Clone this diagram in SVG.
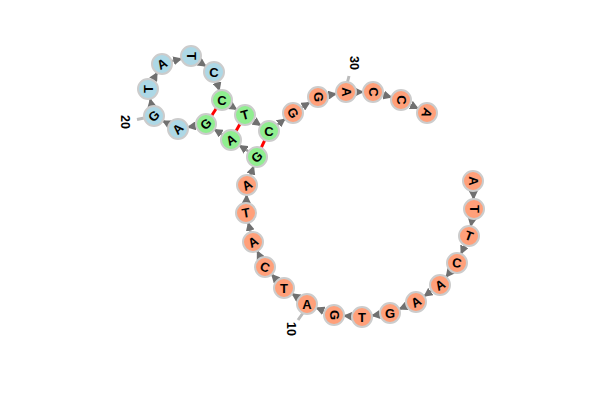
<svg xmlns="http://www.w3.org/2000/svg" width="600" height="406" viewBox="0 0 600 406">
<defs>
<marker id="arr" viewBox="0 0 10 10" refX="9" refY="5" markerWidth="9" markerHeight="9" markerUnits="userSpaceOnUse" orient="auto">
<path d="M0,0 L10,5 L0,10 z" fill="#707070"/>
</marker>
<style>
.bb{stroke:#999;stroke-width:2.5;fill:none;marker-end:url(#arr)}
.pr{stroke:#ff0000;stroke-width:3}
.lb{stroke:#bbb;stroke-width:3}
circle{stroke:#ccc;stroke-width:2}
.s{fill:#ffa07a}.b{fill:#add8e6}.g{fill:#90ee90}
text{font-family:"Liberation Sans",Arial,sans-serif;font-weight:bold;font-size:13px;fill:#000;text-anchor:middle;dominant-baseline:central}
#labels text{font-size:12.5px}
</style>
</defs>
<rect width="600" height="406" fill="#fff"/>
<g id="connectors">
<line class="bb" x1="473.4" y1="191" x2="473.6" y2="199"/>
<line class="bb" x1="472.2" y1="218.8" x2="470.8" y2="226.2"/>
<line class="bb" x1="464.9" y1="245.2" x2="461.1" y2="253.8"/>
<line class="bb" x1="450.9" y1="270.9" x2="446.1" y2="277.1"/>
<line class="bb" x1="431.8" y1="290.8" x2="424.2" y2="296.2"/>
<line class="bb" x1="406.8" y1="305.9" x2="399.2" y2="309.1"/>
<line class="bb" x1="380.1" y1="314.4" x2="371.9" y2="315.6"/>
<line class="bb" x1="352" y1="316.3" x2="344" y2="315.7"/>
<line class="bb" x1="324.7" y1="311.2" x2="316.3" y2="307.8"/>
<line class="bb" x1="298.8" y1="298.3" x2="292.2" y2="293.7"/>
<line class="bb" x1="277.3" y1="280.6" x2="271.7" y2="274.4"/>
<line class="bb" x1="260.7" y1="258" x2="257.3" y2="251"/>
<line class="bb" x1="250.7" y1="232.3" x2="248.3" y2="222.7"/>
<line class="bb" x1="246.4" y1="203" x2="246.6" y2="195"/>
<line class="bb" x1="250.4" y1="175.6" x2="253.6" y2="166.4"/>
<line class="bb" x1="248.6" y1="151.5" x2="239.4" y2="145.5"/>
<line class="bb" x1="222.6" y1="134.6" x2="214.4" y2="129.4"/>
<line class="bb" x1="196.2" y1="125.8" x2="187.8" y2="127.2"/>
<line class="bb" x1="169.2" y1="124.2" x2="162.8" y2="120.8"/>
<line class="bb" x1="151.8" y1="106.2" x2="150.2" y2="98.8"/>
<line class="bb" x1="152.9" y1="80.3" x2="157.1" y2="72.7"/>
<line class="bb" x1="171.6" y1="61.3" x2="181.4" y2="58.7"/>
<line class="bb" x1="199.2" y1="61.7" x2="205.8" y2="66.3"/>
<line class="bb" x1="216.7" y1="81.6" x2="219.3" y2="90.4"/>
<line class="bb" x1="230.4" y1="105.5" x2="236.6" y2="109.5"/>
<line class="bb" x1="253.3" y1="120.5" x2="260.7" y2="125.5"/>
<line class="bb" x1="277" y1="125" x2="285" y2="119"/>
<line class="bb" x1="301.4" y1="107.6" x2="309.6" y2="102.4"/>
<line class="bb" x1="327.8" y1="95.2" x2="336.2" y2="93.8"/>
<line class="bb" x1="356" y1="92" x2="363" y2="92"/>
<line class="bb" x1="382.6" y1="94.7" x2="391.4" y2="97.3"/>
<line class="bb" x1="409.9" y1="104.5" x2="418.1" y2="108.5"/>
<line class="pr" x1="216.4" y1="108.3" x2="211.6" y2="115.7"/>
<line class="pr" x1="240.1" y1="123.7" x2="235.9" y2="131.3"/>
<line class="pr" x1="264.8" y1="140.1" x2="261.2" y2="147.9"/>
<line class="lb" x1="303" y1="313" x2="298" y2="320"/>
<line class="lb" x1="144" y1="118" x2="137" y2="119.5"/>
<line class="lb" x1="347.5" y1="82" x2="349" y2="76"/>
</g>
<g id="labels">
<text transform="translate(291,329) rotate(90)">10</text>
<text transform="translate(125,122) rotate(90)">20</text>
<text transform="translate(354,63) rotate(90)">30</text>
</g>
<g id="n1"><circle class="s" cx="473" cy="181" r="10"/><text transform="translate(473,181) rotate(90)">A</text></g>
<g id="n2"><circle class="s" cx="474" cy="209" r="10"/><text transform="translate(474,209) rotate(90)">T</text></g>
<g id="n3"><circle class="s" cx="469" cy="236" r="10"/><text transform="translate(469,236) rotate(20)">T</text></g>
<g id="n4"><circle class="s" cx="457" cy="263" r="10"/><text transform="translate(457,263) rotate(10)">C</text></g>
<g id="n5"><circle class="s" cx="440" cy="285" r="10"/><text transform="translate(440,285) rotate(-30)">A</text></g>
<g id="n6"><circle class="s" cx="416" cy="302" r="10"/><text transform="translate(416,302) rotate(-30)">A</text></g>
<g id="n7"><circle class="s" cx="390" cy="313" r="10"/><text transform="translate(390,313) rotate(0)">G</text></g>
<g id="n8"><circle class="s" cx="362" cy="317" r="10"/><text transform="translate(362,317) rotate(0)">T</text></g>
<g id="n9"><circle class="s" cx="334" cy="315" r="10"/><text transform="translate(334,315) rotate(90)">G</text></g>
<g id="n10"><circle class="s" cx="307" cy="304" r="10"/><text transform="translate(307,304) rotate(0)">A</text></g>
<g id="n11"><circle class="s" cx="284" cy="288" r="10"/><text transform="translate(284,288) rotate(0)">T</text></g>
<g id="n12"><circle class="s" cx="265" cy="267" r="10"/><text transform="translate(265,267) rotate(20)">C</text></g>
<g id="n13"><circle class="s" cx="253" cy="242" r="10"/><text transform="translate(253,242) rotate(-30)">A</text></g>
<g id="n14"><circle class="s" cx="246" cy="213" r="10"/><text transform="translate(246,213) rotate(-10)">T</text></g>
<g id="n15"><circle class="s" cx="247" cy="185" r="10"/><text transform="translate(247,185) rotate(-30)">A</text></g>
<g id="n16"><circle class="g" cx="257" cy="157" r="10"/><text transform="translate(257,157) rotate(-45)">G</text></g>
<g id="n17"><circle class="g" cx="231" cy="140" r="10"/><text transform="translate(231,140) rotate(-30)">A</text></g>
<g id="n18"><circle class="g" cx="206" cy="124" r="10"/><text transform="translate(206,124) rotate(-45)">G</text></g>
<g id="n19"><circle class="b" cx="178" cy="129" r="10"/><text transform="translate(178,129) rotate(-45)">A</text></g>
<g id="n20"><circle class="b" cx="154" cy="116" r="10"/><text transform="translate(154,116) rotate(-45)">G</text></g>
<g id="n21"><circle class="b" cx="148" cy="89" r="10"/><text transform="translate(148,89) rotate(-90)">T</text></g>
<g id="n22"><circle class="b" cx="162" cy="64" r="10"/><text transform="translate(162,64) rotate(-30)">A</text></g>
<g id="n23"><circle class="b" cx="191" cy="56" r="10"/><text transform="translate(191,56) rotate(90)">T</text></g>
<g id="n24"><circle class="b" cx="214" cy="72" r="10"/><text transform="translate(214,72) rotate(0)">C</text></g>
<g id="n25"><circle class="g" cx="222" cy="100" r="10"/><text transform="translate(222,100) rotate(0)">C</text></g>
<g id="n26"><circle class="g" cx="245" cy="115" r="10"/><text transform="translate(245,115) rotate(-15)">T</text></g>
<g id="n27"><circle class="g" cx="269" cy="131" r="10"/><text transform="translate(269,131) rotate(0)">C</text></g>
<g id="n28"><circle class="s" cx="293" cy="113" r="10"/><text transform="translate(293,113) rotate(60)">G</text></g>
<g id="n29"><circle class="s" cx="318" cy="97" r="10"/><text transform="translate(318,97) rotate(90)">G</text></g>
<g id="n30"><circle class="s" cx="346" cy="92" r="10"/><text transform="translate(346,92) rotate(90)">A</text></g>
<g id="n31"><circle class="s" cx="373" cy="92" r="10"/><text transform="translate(373,92) rotate(90)">C</text></g>
<g id="n32"><circle class="s" cx="401" cy="100" r="10"/><text transform="translate(401,100) rotate(90)">C</text></g>
<g id="n33"><circle class="s" cx="427" cy="113" r="10"/><text transform="translate(427,113) rotate(110)">A</text></g>
</svg>
